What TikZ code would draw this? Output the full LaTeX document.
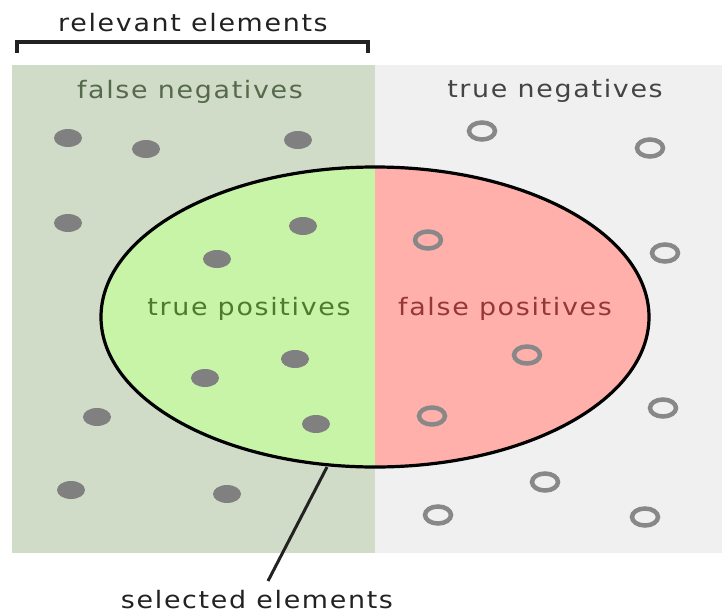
\documentclass[tikz,border=0pt]{standalone}
\usepackage{fontspec}
\usetikzlibrary{shapes.geometric}
\newfontfamily\lblfont[LetterSpace=7,FakeStretch=1.12]{DejaVu Sans}
\definecolor{relbg}{RGB}{208,219,200}
\definecolor{negbg}{RGB}{240,240,240}
\definecolor{tpfill}{RGB}{200,244,168}
\definecolor{fpfill}{RGB}{255,176,170}
\definecolor{dotgray}{RGB}{128,128,128}
\definecolor{ringgray}{RGB}{136,136,136}
\definecolor{fntxt}{RGB}{85,105,75}
\definecolor{tntxt}{RGB}{68,68,68}
\definecolor{tptxt}{RGB}{76,122,46}
\definecolor{fptxt}{RGB}{150,55,55}
\definecolor{captxt}{RGB}{34,34,34}
\tikzset{
  lbl/.style={font=\lblfont\fontsize{24}{24}\selectfont, anchor=base, inner sep=0pt},
  fulldot/.style={ellipse, fill=dotgray, minimum width=28, minimum height=18, inner sep=0pt},
  ringdot/.style={ellipse, draw=ringgray, line width=4.5, minimum width=26, minimum height=17, inner sep=0pt},
}
\begin{document}
\begin{tikzpicture}[x=1pt,y=-1pt]
\useasboundingbox (0,0) rectangle (725,613);
\fill[white] (0,0) rectangle (725,613);
\fill[relbg] (12,65) rectangle (375,553);
\fill[negbg] (375,65) rectangle (722,553);
\begin{scope}
  \clip (375,317) ellipse [x radius=274, y radius=150];
  \fill[tpfill] (100,166) rectangle (375,468);
  \fill[fpfill] (375,166) rectangle (650,468);
\end{scope}
\draw[line width=3.2] (375,317) ellipse [x radius=274, y radius=150];
% bracket
\draw[line width=3.4, captxt] (17,53) -- (17,42) -- (368,42) -- (368,53);
% labels
\node[lbl, text=captxt] (rel) at (193,31) {relevant elements};
\node[lbl, text=fntxt] (fn) at (190,98) {false negatives};
\node[lbl, text=tntxt] (tn) at (555,97) {true negatives};
\node[lbl, text=tptxt] (tp) at (249,315) {true positives};
\node[lbl, text=fptxt] (fp) at (505,315) {false positives};
\node[lbl, text=captxt] (sel) at (257,608) {selected elements};
% connector
\coordinate (selA) at (327,467);
\coordinate (selB) at (268,581);
\draw[line width=3, captxt] (selA) -- (selB);
% relevant dots
\node[fulldot] (f1) at (68,138) {};
\node[fulldot] (f2) at (146,149) {};
\node[fulldot] (f3) at (298,140) {};
\node[fulldot] (f4) at (68,223) {};
\node[fulldot] (f5) at (97,417) {};
\node[fulldot] (f6) at (71,490) {};
\node[fulldot] (f7) at (227,494) {};
\node[fulldot] (f8) at (303,226) {};
\node[fulldot] (f9) at (217,259) {};
\node[fulldot] (f10) at (295,359) {};
\node[fulldot] (f11) at (205,378) {};
\node[fulldot] (f12) at (316,424) {};
% non-relevant rings
\node[ringdot] (r1) at (482,131) {};
\node[ringdot] (r2) at (650,148) {};
\node[ringdot] (r3) at (665,253) {};
\node[ringdot] (r4) at (663,408) {};
\node[ringdot] (r5) at (545,482) {};
\node[ringdot] (r6) at (438,515) {};
\node[ringdot] (r7) at (645,517) {};
\node[ringdot] (r8) at (428,240) {};
\node[ringdot] (r9) at (527,355) {};
\node[ringdot] (r10) at (432,416) {};
\end{tikzpicture}
\end{document}
